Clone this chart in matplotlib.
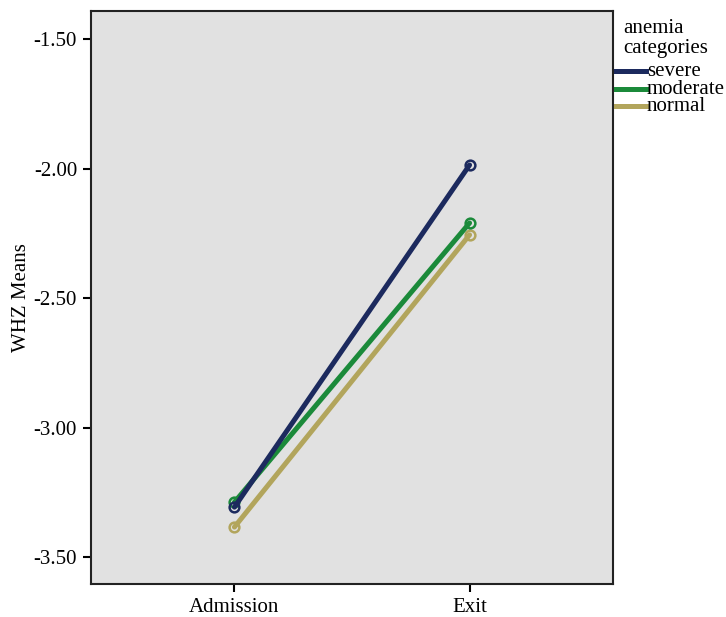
import matplotlib
matplotlib.use("Agg")
import matplotlib.pyplot as plt
from matplotlib.lines import Line2D

plt.rcParams.update({
    "font.family": "Liberation Serif",
    "font.size": 15,
})

# ---------- data ----------
timepoints = ["Admission", "Exit"]
categories = ["severe", "moderate", "normal"]
severe = [-3.307, -1.985]
moderate = [-3.288, -2.209]
normal = [-3.384, -2.255]
colors = ["#1c2a5e", "#1b8a3a", "#b2a55c"]
yticks = [-3.50, -3.00, -2.50, -2.00, -1.50]

W, H = 726, 617
fig = plt.figure(figsize=(W / 100, H / 100), dpi=100)
ax = fig.add_axes([91 / W, 33 / H, 522 / W, 573 / H])
ax.set_facecolor("#e1e1e1")

xs = list(range(len(timepoints)))
series = [severe, moderate, normal]
# normal drawn first, severe on top
for vals, c in reversed(list(zip(series, colors))):
    ax.plot(xs, vals, color=c, linewidth=3.6, marker="o", markersize=7,
            markerfacecolor="none", markeredgewidth=1.8,
            solid_capstyle="round")

ax.set_xlim(-0.61, 1.61)
ax.set_ylim(-3.604, -1.39)
ax.set_xticks(xs)
ax.set_xticklabels(timepoints)
ax.set_yticks(yticks)
ax.set_yticklabels([f"{v:.2f}" for v in yticks])
ax.set_ylabel("WHZ Means", labelpad=2)
ax.tick_params(direction="out", length=6, width=1.5, pad=4, colors="black")
for sp in ax.spines.values():
    sp.set_linewidth(1.5)
    sp.set_color("#222222")

# legend drawn by hand (tight spacing like the original)
fig.text(623 / W, 1 - 33 / H, "anemia", ha="left", va="baseline")
fig.text(623 / W, 1 - 53 / H, "categories", ha="left", va="baseline")
for i, (name, c) in enumerate(zip(categories, colors)):
    yl = 71 + i * 17.5
    fig.add_artist(Line2D([616 / W, 646 / W], [1 - yl / H, 1 - yl / H],
                          color=c, linewidth=3.6, transform=fig.transFigure))
    fig.text(647 / W, 1 - (yl + 5) / H, name, ha="left", va="baseline")

fig.savefig("out.png", dpi=100)
